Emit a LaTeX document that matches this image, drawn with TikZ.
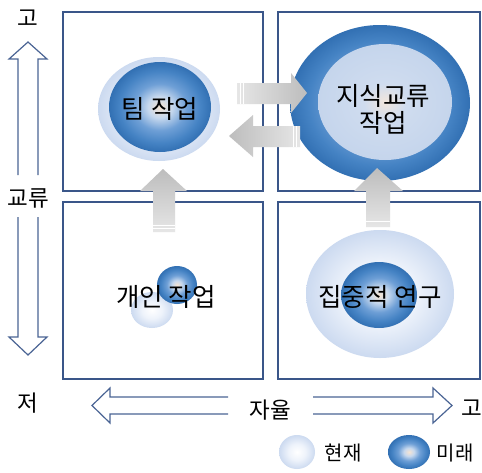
\documentclass[tikz,border=0pt]{standalone}
\usepackage{fontspec}
\setmainfont{Noto Sans CJK KR}
\definecolor{boxline}{HTML}{3A5689}
\definecolor{axisline}{HTML}{4A6494}
\definecolor{fpeach}{HTML}{F6E4D2}
\definecolor{flight}{HTML}{C6D8EE}
\definecolor{fmid}{HTML}{6E9FD6}
\definecolor{fmid2}{HTML}{4583C4}
\definecolor{fdark}{HTML}{3270B3}
\definecolor{nlight}{HTML}{EEF3FB}
\definecolor{nedge}{HTML}{CCDAF0}
\definecolor{ipeach}{HTML}{F2E6DC}
\definecolor{ilight}{HTML}{CFDCEF}
\definecolor{iedge}{HTML}{C5D5EC}
\definecolor{garrowdark}{HTML}{BDBDBD}
\definecolor{garrowlight}{HTML}{E6E6E6}
\pgfdeclareradialshading{futureshade}{\pgfpoint{0bp}{0bp}}{color(0bp)=(fpeach); color(6bp)=(flight); color(13bp)=(fmid); color(20bp)=(fmid2); color(25bp)=(fdark); color(50bp)=(fdark)}
\pgfdeclareradialshading{nowshade}{\pgfpoint{0bp}{0bp}}{color(0bp)=(white); color(12bp)=(nlight); color(25bp)=(nedge); color(50bp)=(nedge)}
\pgfdeclareradialshading{innershade}{\pgfpoint{0bp}{0bp}}{color(0bp)=(ipeach); color(8bp)=(ilight); color(25bp)=(iedge); color(50bp)=(iedge)}
\tikzset{
  quad/.style={draw=boxline, line width=1.3pt},
  axisarrow/.style={draw=axisline, line width=1.2pt, fill=white, line join=miter},
  maintext/.style={font=\fontsize{25.5}{27}\selectfont, align=center, text=black, inner sep=0pt},
  axistext/.style={font=\fontsize{22.5}{24}\selectfont, text=black, inner sep=0pt},
  legtext/.style={font=\fontsize{20}{22}\selectfont, text=black, inner sep=0pt},
  stripe/.style={draw=white, line width=0.8pt}
}
\begin{document}
\begin{tikzpicture}[x=1pt,y=-1pt]
\useasboundingbox (0,0) rectangle (482,472);
\fill[white] (0,0) rectangle (482,472);

% quadrant boxes
\draw[quad] (63,12) rectangle (263,191);
\draw[quad] (278,12) rectangle (480,191);
\draw[quad] (63,202) rectangle (263,379);
\draw[quad] (278,202) rectangle (480,379);

% circles
\shade[shading=nowshade] (159,109) ellipse [x radius=61, y radius=52];
\shade[shading=futureshade] (160,107) ellipse [x radius=51, y radius=45];

\shade[shading=futureshade] (380,103) ellipse [x radius=90, y radius=78];
\shade[shading=innershade] (385,102) ellipse [x radius=67, y radius=58];

\shade[shading=nowshade] (380,294) ellipse [x radius=74, y radius=64];
\shade[shading=futureshade] (379,295) ellipse [x radius=38, y radius=33];

\shade[shading=nowshade] (152,310) ellipse [x radius=21, y radius=18];
\shade[shading=futureshade] (177,285) ellipse [x radius=20, y radius=19];

% gray arrows
\shade[top color=garrowdark, bottom color=garrowlight]
  (153,232) -- (153,191) -- (140,191) -- (163,169) -- (187,191) -- (175,191) -- (175,232) -- cycle;
\draw[stripe] (153,225) -- (175,225);
\draw[stripe] (153,228.5) -- (175,228.5);
\shade[top color=garrowdark, bottom color=garrowlight]
  (366,227) -- (366,191) -- (354,191) -- (377,168) -- (403,191) -- (390,191) -- (390,227) -- cycle;
\draw[stripe] (366,221) -- (390,221);
\shade[left color=garrowlight, right color=garrowdark]
  (237,83) -- (291,83) -- (291,73) -- (307,93) -- (291,113) -- (291,104) -- (237,104) -- cycle;
\draw[stripe] (240,83) -- (240,104);
\draw[stripe] (243.5,83) -- (243.5,104);
\shade[left color=garrowdark, right color=garrowlight]
  (300,126) -- (253,126) -- (253,115) -- (229,136) -- (253,157) -- (253,147) -- (300,147) -- cycle;
\draw[stripe] (293,126) -- (293,147);
\draw[stripe] (296.5,126) -- (296.5,147);

% main texts
\node[maintext] (team) at (160,109) {팀 작업};
\node[maintext] (know) at (383,109) {지식교류\\작업};
\node[maintext] (indiv) at (166,297) {개인 작업};
\node[maintext] (focus) at (380,297) {집중적 연구};

% axis arrows
\draw[axisarrow] (18,175) -- (18,59) -- (9,59) -- (28,42) -- (47,59) -- (38,59) -- (38,175);
\draw[axisarrow] (18,217) -- (18,337) -- (9,337) -- (28,355) -- (47,337) -- (38,337) -- (38,217);
\draw[axisarrow] (228,397) -- (110,397) -- (110,388) -- (92,405.5) -- (110,423) -- (110,414) -- (228,414);
\draw[axisarrow] (313,397) -- (433,397) -- (433,388) -- (452,405.5) -- (433,423) -- (433,414) -- (313,414);

% axis labels
\node[axistext] (vhigh) at (28,18) {고};
\node[axistext] (vlabel) at (28,198) {교류};
\node[axistext] (low) at (28,403) {저};
\node[axistext] (hlabel) at (270,410) {자율};
\node[axistext] (hhigh) at (472,408) {고};

% legend
\shade[shading=nowshade] (297,452) ellipse [x radius=18, y radius=17];
\node[legtext] (now) at (343,453) {현재};
\shade[shading=futureshade] (409,452) ellipse [x radius=21, y radius=17];
\node[legtext] (future) at (455,453) {미래};
\end{tikzpicture}
\end{document}
